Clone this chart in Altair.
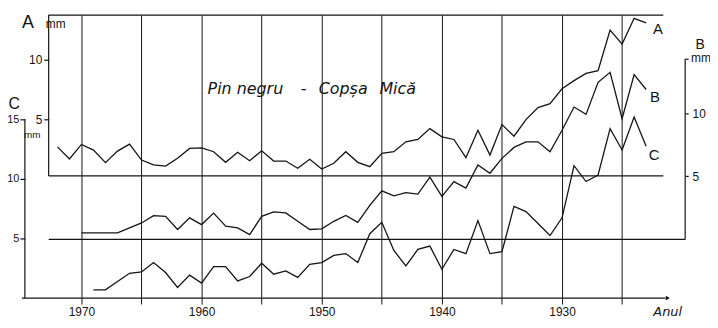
import altair as alt
import pandas as pd

# ---------------- data ----------------
years_a = list(range(1972, 1922, -1))          # 1972 .. 1923
ring_a = [2.69, 1.67, 2.89, 2.42, 1.36, 2.33, 2.92, 1.58, 1.17, 1.08,
          1.73, 2.56, 2.61, 2.28, 1.39, 2.23, 1.53, 2.36, 1.50, 1.50,
          0.89, 1.64, 0.83, 1.31, 2.28, 1.39, 1.03, 2.14, 2.28, 3.11,
          3.31, 4.22, 3.53, 3.31, 1.78, 4.08, 2.00, 4.56, 3.58, 4.98,
          5.98, 6.31, 7.56, 8.25, 8.86, 9.08, 12.50, 11.31, 13.48, 13.10]

years_b = list(range(1970, 1922, -1))          # 1970 .. 1923
ring_b = [0.53, 0.53, 0.53, 0.53, 0.92, 1.31, 1.89, 1.83, 0.79, 1.71,
          1.18, 2.09, 1.05, 0.92, 0.39, 1.83, 2.18, 2.10, 1.44, 0.79,
          0.84, 1.44, 1.91, 1.36, 2.70, 3.86, 3.46, 3.72, 3.60, 4.94,
          3.41, 4.59, 4.07, 5.91, 5.25, 6.43, 7.30, 7.74, 7.74, 6.95,
          8.66, 10.50, 9.92, 12.46, 13.25, 9.58, 13.07, 11.89]

years_c = list(range(1969, 1922, -1))          # 1969 .. 1923
ring_c = [0.69, 0.69, 1.39, 2.08, 2.19, 2.98, 2.14, 0.89, 1.92, 1.25,
          2.64, 2.64, 1.44, 1.81, 2.92, 2.00, 2.28, 1.73, 2.83, 2.98,
          3.58, 3.73, 2.98, 5.40, 6.36, 4.00, 2.69, 4.08, 4.36, 2.42,
          4.08, 3.73, 6.50, 3.73, 3.89, 7.69, 7.25, 6.25, 5.25, 6.73,
          11.11, 9.78, 10.33, 14.22, 12.42, 15.19, 12.75]

grid_years = [1970, 1965, 1960, 1955, 1950, 1945, 1940, 1935, 1930, 1925]
ticks_a = [5, 10]
ticks_b = [5, 10]
ticks_c = [5, 10, 15]

title_words = ["Pin negru", "-", "Copșa", "Mică"]

# ---------------- tables ----------------
df_a = pd.DataFrame({"year": years_a, "mm": ring_a})
df_b = pd.DataFrame({"year": years_b, "mm": ring_b})
df_c = pd.DataFrame({"year": years_c, "mm": ring_c})

FONT = "Liberation Sans"
INK = "#141414"

xs = alt.Scale(domain=[1974.71, 1919.75], zero=False, nice=False)
ya = alt.Scale(domain=[-10.0, 13.75], zero=False, nice=False)
yb = alt.Scale(domain=[-4.646, 17.795], zero=False, nice=False)
yc = alt.Scale(domain=[0.0, 23.75], zero=False, nice=False)

x_axis = alt.Axis(values=grid_years, format="d", grid=True, gridColor=INK,
                  gridOpacity=1, gridWidth=1, domain=False, tickColor=INK,
                  tickSize=6, tickWidth=1,
                  labelExpr="datum.value % 10 == 0 ? datum.label : ''",
                  labelFont=FONT, labelFontSize=12, labelColor=INK,
                  labelPadding=3, title=None)


def X(field="year"):
    return alt.X(f"{field}:Q", scale=xs, axis=x_axis)


def series(df, yscale, axis):
    return alt.Chart(df).mark_line(color=INK, strokeWidth=1.3).encode(
        x=X(), y=alt.Y("mm:Q", scale=yscale, axis=axis))


axis_a = alt.Axis(orient="left", offset=-24, values=ticks_a, domain=False,
                  grid=False, tickColor=INK, tickSize=5, tickWidth=1.2,
                  labelFont=FONT, labelFontSize=12, labelColor=INK,
                  labelPadding=2, title=None)
axis_b = alt.Axis(orient="right", offset=0, values=ticks_b + [14.33],
                  domain=False, grid=False, tickColor=INK, tickSize=3,
                  tickWidth=1.2, labelExpr="datum.value < 14 ? datum.label : ''",
                  labelFont=FONT, labelFontSize=12, labelColor=INK,
                  labelPadding=4, title=None)
axis_c = alt.Axis(orient="left", offset=0, values=ticks_c, domain=False,
                  grid=False, tickColor=INK, tickSize=5, tickWidth=1.2,
                  labelFont=FONT, labelFontSize=11, labelColor=INK,
                  labelPadding=1, title=None)

line_a = series(df_a, ya, axis_a)
line_b = series(df_b, yb, axis_b)
line_c = series(df_c, yc, axis_c)

# frame lines (in data units of each scale)
frame_a = pd.DataFrame({
    "x": [1972.73, 1972.73, 1972.73],
    "x2": [1921.57, 1972.73, 1921.57],
    "y": [13.75, 0.25, 0.25],
    "y2": [13.75, 13.75, 0.25]})
frame_b = pd.DataFrame({
    "x": [1972.73, 1919.75],
    "x2": [1919.75, 1919.75],
    "y": [0.0, 0.0],
    "y2": [0.0, 14.33]})
frame_c = pd.DataFrame({
    "x": [1974.96, 1974.71],
    "x2": [1921.4, 1974.71],
    "y": [0.0, 0.0],
    "y2": [0.0, 15.0]})


def frame(df, yscale):
    return alt.Chart(df).mark_rule(color=INK, strokeWidth=1.2).encode(
        x=X("x"), x2="x2:Q",
        y=alt.Y("y:Q", scale=yscale, axis=None), y2="y2:Q")


arrow = alt.Chart(pd.DataFrame({"x": [1921.2], "y": [0.0]})).mark_point(
    shape="triangle-right", filled=True, color=INK, size=22, opacity=1).encode(
    x=X("x"), y=alt.Y("y:Q", scale=yc, axis=None))


def end_label(df, yscale, text, dx, dy, size):
    last = df.tail(1).assign(t=text)
    return alt.Chart(last).mark_text(
        font="Liberation Sans", fontSize=size, color=INK, dx=dx, dy=dy,
        align="center", baseline="middle").encode(
        x=X(), y=alt.Y("mm:Q", scale=yscale, axis=None), text="t:N")


lab_a = end_label(df_a, ya, "A", 12, 6, 15)
lab_b = end_label(df_b, yb, "B", 9, 8, 15)
lab_c = end_label(df_c, yc, "C", 8, 9, 15)


def note(x, y, text, yscale, size, style="normal", font=FONT, align="center"):
    d = pd.DataFrame({"x": [x], "y": [y], "t": [text]})
    return alt.Chart(d).mark_text(
        font=font, fontSize=size, fontStyle=style, color=INK,
        align=align, baseline="middle").encode(
        x=X("x"), y=alt.Y("y:Q", scale=yscale, axis=None), text="t:N")


notes = [
    note(1974.46, 13.08, "A", ya, 18),
    note(1972.15, 13.0, "mm", ya, 12),
    note(1975.6, 16.3, "C", yc, 16),
    note(1974.1, 13.7, "mm", yc, 10),
    note(1918.51, 15.45, "B", yb, 14),
    note(1918.43, 14.35, "mm", yb, 12),
    note(1959.5, 7.58, title_words[0], ya, 16, style="italic",
         font="DejaVu Sans", align="left"),
    note(1951.5, 7.58, title_words[1], ya, 16, style="italic",
         font="DejaVu Sans", align="center"),
    note(1950.25, 7.58, title_words[2], ya, 16, style="italic",
         font="DejaVu Sans", align="left"),
    note(1945.2, 7.58, title_words[3], ya, 16, style="italic",
         font="DejaVu Sans", align="left"),
    note(1922.4, -1.2, "Anul", yc, 13, style="italic",
         font="DejaVu Sans", align="left"),
]

chart = alt.layer(
    line_a, line_b, line_c,
    frame(frame_a, ya), frame(frame_b, yb), frame(frame_c, yc),
    arrow, lab_a, lab_b, lab_c, *notes
).resolve_scale(y="independent").properties(
    width=665, height=285,
    autosize=alt.AutoSizeParams(type="none"),
    padding={"left": 17, "top": 6, "right": 25, "bottom": 22},
    background="white",
).configure_view(stroke=None)

chart.save("out.html", embed_options={"renderer": "svg", "actions": False})
